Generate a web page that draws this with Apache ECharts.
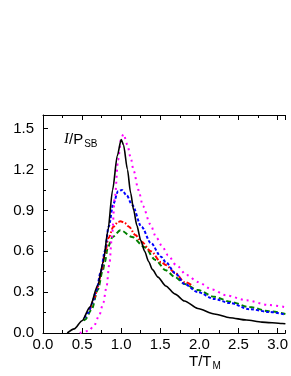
<!DOCTYPE html>
<html>
<head>
<meta charset="utf-8">
<script src="https://cdn.jsdelivr.net/npm/echarts@6/dist/echarts.min.js"></script>
<style>
html,body{margin:0;padding:0;background:#fff;}
#chart{width:291px;height:376px;}
</style>
</head>
<body>
<div id="chart"></div>
<script>
// Data (x = T/T_M, y = I/P_SB)
const blackT = [0.31,0.4,0.5,0.6,0.7,0.77,0.83,0.89,0.95,1.0,1.03,1.08,1.12,1.16,1.2,1.25,1.3,1.35,1.4,1.47,1.57,1.69,1.81,1.98,2.19,2.39,2.6,2.8,3.06,3.1];
const blackI = [0.0,0.03,0.09,0.19,0.35,0.52,0.75,1.05,1.3,1.42,1.38,1.2,1.03,0.9,0.79,0.68,0.6,0.525,0.465,0.41,0.345,0.285,0.235,0.18,0.14,0.112,0.095,0.08,0.07,0.068];

const magT = [0.47,0.58,0.65,0.72,0.77,0.81,0.85,0.88,0.92,0.96,1.0,1.03,1.08,1.12,1.16,1.22,1.28,1.37,1.45,1.53,1.6,1.7,1.84,1.98,2.16,2.35,2.6,2.89,3.1];
const magI = [0.0,0.015,0.05,0.13,0.22,0.33,0.51,0.7,1.0,1.27,1.43,1.46,1.38,1.29,1.19,1.05,0.93,0.8,0.7,0.63,0.57,0.5,0.425,0.375,0.32,0.275,0.24,0.205,0.19];

const blueT = [0.53,0.58,0.63,0.68,0.74,0.79,0.84,0.9,0.96,1.01,1.07,1.14,1.26,1.38,1.51,1.57,1.69,1.81,1.98,2.19,2.39,2.64,2.89,3.1];
const blueI = [0.11,0.15,0.22,0.31,0.45,0.6,0.78,0.95,1.04,1.05,1.01,0.94,0.78,0.66,0.56,0.52,0.44,0.36,0.3,0.25,0.22,0.175,0.155,0.135];

const redT = [0.6,0.66,0.7,0.745,0.79,0.84,0.9,0.96,0.99,1.04,1.1,1.18,1.26,1.38,1.51,1.57,1.69,1.81,1.92];
const redI = [0.17,0.26,0.34,0.45,0.58,0.7,0.78,0.815,0.82,0.81,0.78,0.72,0.67,0.6,0.52,0.5,0.44,0.375,0.345];

const greenT = [0.52,0.54,0.62,0.7,0.765,0.79,0.83,0.89,0.99,1.14,1.3,1.44,1.57,1.69,1.81,1.98,2.19,2.39,2.64,2.89,3.1];
const greenI = [0.09,0.1,0.17,0.315,0.46,0.52,0.63,0.705,0.755,0.705,0.63,0.535,0.46,0.41,0.36,0.315,0.266,0.23,0.19,0.16,0.14];

const xTickLabels = ['0.0','0.5','1.0','1.5','2.0','2.5','3.0'];
const yTickLabels = ['0.0','0.3','0.6','0.9','1.2','1.5'];

function pairs(xs, ys){ return xs.map((x,i)=>[x, ys[i]]); }

const FONT = 'Liberation Sans, Arial, sans-serif';
const chart = echarts.init(document.getElementById('chart'), null, {renderer:'canvas'});

function xAx(pos, interval, tickLen, showLine, showLabel){
  return {
    type:'value', position:pos, min:0, max:3.1, interval:interval,
    axisLine:{show:showLine, onZero:false, lineStyle:{color:'#000', width:1}},
    axisTick:{show:true, inside:true, length:tickLen, lineStyle:{color:'#000', width:1}},
    axisLabel:{show:showLabel, showMaxLabel:false, margin:4, color:'#000', fontSize:15, fontFamily:FONT,
      formatter:(v)=>{ const s=v.toFixed(1); return xTickLabels.indexOf(s)>=0 ? s : ''; }},
    splitLine:{show:false}
  };
}
function yAx(interval, tickLen, showLine, showLabel){
  return {
    type:'value', position:'left', min:0, max:1.6, interval:interval,
    axisLine:{show:showLine, onZero:false, lineStyle:{color:'#000', width:1}},
    axisTick:{show:true, inside:true, length:tickLen, lineStyle:{color:'#000', width:1}},
    axisLabel:{show:showLabel, showMaxLabel:false, margin:9, color:'#000', fontSize:15, fontFamily:FONT,
      formatter:(v)=>{ const s=v.toFixed(1); return yTickLabels.indexOf(s)>=0 ? s : ''; }},
    splitLine:{show:false}
  };
}

function line(data, color, width, type, smooth){
  return {type:'line', xAxisIndex:0, yAxisIndex:0, data:data, showSymbol:false, symbol:'none',
    smooth:smooth, smoothMonotone:'x', clip:true, lineStyle:{color:color, width:width, type:type, cap:'butt'}, z:3};
}

chart.setOption({
  animation:false,
  backgroundColor:'#fff',
  grid:{left:43, right:-3, top:115, bottom:43, containLabel:false},
  xAxis:[ xAx('bottom',0.5,5,true,true), xAx('bottom',0.25,3,false,false),
          xAx('top',0.5,5,true,false), xAx('top',0.25,3,false,false) ],
  yAxis:[ yAx(0.3,5,true,true), yAx(0.15,3,false,false) ],
  series:[
    line(pairs(greenT, greenI), '#008000', 2, [5,3], 0.3),
    line(pairs(redT, redI), '#ff0000', 2, [5,2,1.5,2], 0.3),
    line(pairs(blueT, blueI), '#0000ff', 2, [3,2], 0.3),
    line(pairs(magT, magI), '#ff00ff', 2, [2,4], 0.3),
    line(pairs(blackT, blackI), '#000000', 1.6, 'solid', 0.25)
  ],
  graphic:[
    {type:'text', left:64, top:132, z:10, style:{
      text:'{i|I}{n|/P}{s|SB}',
      rich:{
        i:{fontFamily:'Liberation Serif, serif', fontStyle:'italic', fontSize:15, lineHeight:15, verticalAlign:'top', fill:'#000', color:'#000'},
        n:{fontFamily:FONT, fontSize:15, lineHeight:15, verticalAlign:'top', fill:'#000', color:'#000'},
        s:{fontFamily:FONT, fontSize:10, lineHeight:10, padding:[7,0,0,1], verticalAlign:'top', fill:'#000', color:'#000'}
      }}},
    {type:'text', left:189, top:354, z:10, style:{
      text:'{n|T/T}{s|M}',
      rich:{
        n:{fontFamily:FONT, fontSize:15, lineHeight:15, verticalAlign:'top', fill:'#000', color:'#000'},
        s:{fontFamily:FONT, fontSize:10, lineHeight:10, padding:[7,0,0,1], verticalAlign:'top', fill:'#000', color:'#000'}
      }}}
  ]
});
</script>
</body>
</html>
